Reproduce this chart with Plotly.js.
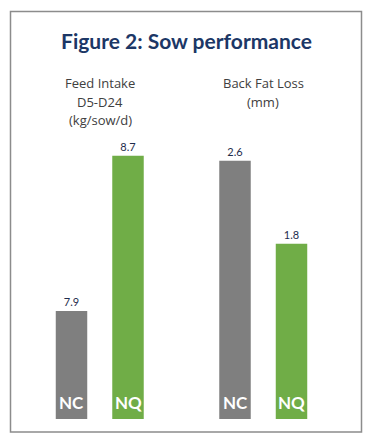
<!DOCTYPE html>
<html><head><meta charset="utf-8">
<script src="https://cdn.plot.ly/plotly-3.0.1.min.js"></script>
<style>html,body{margin:0;padding:0;background:#fff;}#chart{width:373px;height:444px;}</style>
</head><body><div id="chart"></div>
<script>
const groups = ["NC", "NQ"];
const feedIntake = [7.9, 8.7];
const backFatLoss = [2.6, 1.8];
const panelTitles = [["Feed Intake", "D5-D24", "(kg/sow/d)"], ["Back Fat Loss", "(mm)"]];
const chartTitle = "Figure 2: Sow performance";
const colors = ["#7f7f7f", "#70ad47"];

const W = 373, H = 444;
const px = v => v / W, py = v => (H - v) / H;
const yDom = [py(419), py(150)];

function barTrace(vals, xa, ya) {
  return {
    type: "bar", x: groups, y: vals, xaxis: xa, yaxis: ya,
    marker: {color: colors},
    text: vals.map(v => v.toFixed(1)), textposition: "outside",
    textfont: {family: "Lato, sans-serif", size: 11, color: "#1f2d4d"},
    cliponaxis: false, hoverinfo: "none", showlegend: false
  };
}

const data = [barTrace(feedIntake, "x", "y"), barTrace(backFatLoss, "x2", "y2")];

const annotations = [];
[["x", "y", 7.3435], ["x2", "y2", 0.11]].forEach(([xa, ya, base]) => {
  groups.forEach(g => {
    annotations.push({xref: xa, yref: ya, x: g, y: base, yanchor: "bottom", yshift: 4,
      text: "<b>" + g + "</b>", showarrow: false,
      font: {family: "Lato, sans-serif", size: 17, color: "#ffffff"}});
  });
});
const titleX = [100, 263];
panelTitles.forEach((lines, i) => {
  lines.forEach((ln, j) => {
    annotations.push({xref: "paper", yref: "paper", x: px(titleX[i]), y: py(83.3 + 18.5 * j),
      yanchor: "middle", xanchor: "center", text: ln, showarrow: false,
      font: {family: "Open Sans, sans-serif", size: 13, color: "#404040"}});
  });
});

const layout = {
  width: W, height: H,
  margin: {l: 0, r: 0, t: 0, b: 0},
  paper_bgcolor: "#fff", plot_bgcolor: "rgba(0,0,0,0)",
  title: {text: "<b>" + chartTitle + "</b>", x: 0.5, xanchor: "center", xref: "paper",
    y: py(42), yanchor: "middle", yref: "container",
    font: {family: "Lato, sans-serif", size: 21, color: "#1c3766"}},
  bargap: 0.443,
  xaxis: {domain: [px(43.25), px(156.25)], anchor: "y", range: [-0.5, 1.5], visible: false, fixedrange: true},
  xaxis2: {domain: [px(206.75), px(319.75)], anchor: "y2", range: [-0.5, 1.5], visible: false, fixedrange: true},
  yaxis: {domain: yDom, range: [7.3435, 7.3435 + 269 / 194.1], visible: false, fixedrange: true},
  yaxis2: {domain: yDom, range: [0.11, 0.11 + 269 / 103.75], visible: false, fixedrange: true},
  shapes: [{type: "rect", xref: "paper", yref: "paper", x0: px(10.5), x1: px(361.5), y0: py(432), y1: py(11.5),
    line: {color: "#8c8c8c", width: 1.5}, fillcolor: "rgba(0,0,0,0)", layer: "below"}],
  annotations: annotations
};

Plotly.newPlot("chart", data, layout, {displayModeBar: false, staticPlot: true});
</script></body></html>
